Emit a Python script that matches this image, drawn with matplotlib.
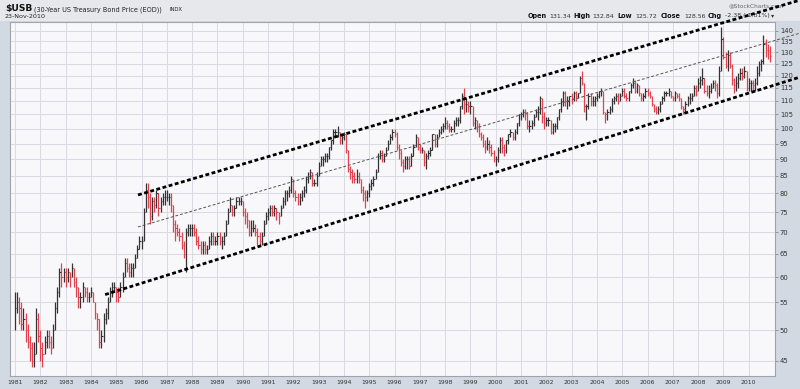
import numpy as np
import matplotlib
matplotlib.use("Agg")
import matplotlib.pyplot as plt
from matplotlib.patches import Rectangle

# monthly bars, Jan 1981 .. Nov 2010
first_year = 1981
closes = [
    54, 55, 54, 51, 52, 50, 48, 47, 45, 46, 52, 49,          # 1981
    47, 46, 48, 49, 48, 47, 50, 54, 57, 61, 60, 61,          # 1982
    60, 61, 60, 62, 59, 58, 56, 56, 58, 57, 56, 56,          # 1983
    57, 55, 53, 52, 48, 49, 52, 53, 55, 57, 58, 58,          # 1984
    57, 56, 58, 60, 63, 62, 61, 62, 62, 64, 66, 68,          # 1985
    68, 75, 81, 79, 74, 78, 77, 80, 76, 78, 79, 79,          # 1986
    79, 79, 77, 72, 71, 70, 69, 67, 65, 70, 71, 71,          # 1987
    71, 70, 68, 67, 66, 67, 66, 66, 68, 69, 68, 68,          # 1988
    69, 68, 68, 69, 72, 75, 77, 75, 76, 78, 78, 78,          # 1989
    75, 74, 73, 70, 71, 71, 70, 69, 68, 69, 72, 74,          # 1990
    75, 76, 75, 76, 75, 74, 76, 78, 80, 80, 81, 84,          # 1991
    80, 79, 78, 79, 80, 81, 84, 85, 86, 83, 83, 85,          # 1992
    88, 90, 90, 91, 91, 94, 96, 99, 99, 99, 96, 97,          # 1993
    98, 93, 87, 86, 85, 84, 85, 84, 81, 80, 79, 80,          # 1994
    82, 83, 84, 86, 91, 92, 90, 91, 93, 95, 97, 99,          # 1995
    98, 94, 92, 89, 88, 90, 90, 88, 91, 94, 97, 94,          # 1996
    93, 93, 89, 91, 92, 93, 98, 95, 97, 99, 100, 101,        # 1997
    102, 101, 100, 100, 102, 103, 103, 108, 112, 109, 109, 108,  # 1998
    108, 102, 103, 101, 98, 97, 95, 94, 95, 94, 92, 90,      # 1999
    90, 93, 96, 94, 93, 96, 98, 99, 97, 99, 102, 105,        # 2000
    105, 106, 105, 101, 101, 102, 104, 106, 106, 111, 104, 102,  # 2001
    103, 103, 99, 101, 101, 104, 107, 110, 113, 110, 110, 112,   # 2002
    111, 113, 112, 113, 119, 117, 108, 108, 112, 110, 110, 111,  # 2003
    112, 114, 114, 106, 105, 106, 107, 110, 111, 112, 110, 112,  # 2004
    114, 112, 111, 114, 116, 117, 114, 116, 113, 111, 112, 114,  # 2005
    113, 112, 109, 107, 106, 107, 109, 111, 113, 113, 114, 112,  # 2006
    111, 113, 112, 111, 108, 107, 109, 111, 111, 112, 115, 114,  # 2007
    117, 118, 119, 114, 113, 114, 115, 117, 116, 113, 122, 136,  # 2008
    128, 124, 129, 124, 118, 116, 117, 119, 121, 120, 122, 115,  # 2009
    117, 117, 116, 117, 121, 125, 126, 134, 131, 130.94, 128.56,  # 2010
]
highs = [
    57, 57, 56, 55, 54, 53, 51, 49, 48, 48, 54, 53,
    50, 48, 49, 50, 50, 49, 51, 55, 58, 62, 63, 62,
    62, 62, 61, 63, 62, 60, 58, 57, 59, 58, 58, 57,
    58, 57, 55, 53, 52, 50, 53, 54, 56, 58, 59, 59,
    58, 58, 59, 61, 64, 64, 63, 63, 63, 65, 67, 69,
    69, 76, 83, 83, 80, 79, 79, 81, 80, 79, 80, 81,
    81, 80, 80, 77, 73, 72, 71, 70, 68, 71, 72, 72,
    72, 72, 71, 69, 68, 68, 68, 67, 69, 70, 70, 69,
    70, 70, 69, 70, 73, 76, 79, 77, 77, 79, 79, 79,
    78, 76, 75, 73, 73, 73, 72, 71, 70, 70, 73, 75,
    76, 77, 77, 77, 76, 75, 77, 79, 81, 81, 82, 85,
    84, 81, 80, 80, 81, 82, 85, 86, 87, 86, 84, 86,
    89, 91, 91, 92, 92, 94, 96, 100, 100, 101, 99, 98,
    99, 98, 93, 88, 87, 86, 87, 86, 84, 82, 81, 81,
    83, 84, 85, 87, 92, 93, 93, 92, 94, 96, 98, 100,
    100, 99, 95, 93, 90, 91, 91, 91, 92, 95, 98, 97,
    95, 94, 93, 92, 93, 94, 98, 98, 98, 100, 101, 102,
    104, 103, 102, 101, 103, 104, 104, 108, 113, 115, 111, 110,
    110, 108, 104, 103, 102, 99, 98, 96, 97, 96, 95, 93,
    91, 94, 97, 97, 95, 96, 98, 100, 99, 100, 102, 105,
    106, 107, 107, 106, 103, 103, 105, 107, 108, 112, 111, 106,
    104, 104, 103, 102, 102, 104, 107, 111, 114, 114, 112, 112,
    113, 114, 114, 113, 120, 122, 117, 109, 113, 113, 112, 112,
    113, 114, 115, 114, 106, 107, 108, 111, 112, 113, 113, 113,
    115, 115, 113, 114, 117, 119, 118, 117, 116, 113, 113, 115,
    115, 114, 112, 109, 108, 108, 110, 112, 114, 114, 115, 114,
    112, 114, 113, 113, 111, 108, 110, 112, 113, 113, 116, 116,
    119, 120, 123, 119, 116, 116, 117, 118, 118, 117, 124, 142,
    137, 130, 131, 130, 125, 119, 120, 121, 123, 123, 124, 122,
    119, 118, 118, 119, 124, 126, 127, 137.8, 136, 134, 132.84,
]
lows = [
    50, 53, 51, 50, 50, 48, 47, 45, 44, 44, 46, 48,
    45, 44, 46, 47, 47, 46, 47, 50, 53, 56, 58, 59,
    58, 59, 58, 60, 58, 56, 54, 54, 55, 56, 55, 55,
    56, 55, 52, 50, 47, 47, 48, 51, 52, 55, 56, 57,
    55, 55, 56, 57, 60, 61, 60, 60, 60, 62, 64, 66,
    66, 68, 75, 76, 72, 73, 75, 76, 74, 75, 77, 77,
    78, 77, 75, 70, 68, 69, 68, 66, 64, 61, 69, 69,
    69, 69, 67, 66, 65, 65, 65, 65, 66, 67, 67, 67,
    67, 67, 66, 67, 69, 72, 75, 74, 74, 76, 77, 77,
    74, 72, 71, 69, 69, 70, 69, 67, 67, 67, 69, 72,
    73, 74, 74, 74, 73, 72, 74, 76, 77, 78, 79, 80,
    79, 78, 77, 77, 78, 79, 80, 83, 84, 82, 82, 82,
    85, 88, 88, 89, 89, 90, 93, 95, 97, 97, 95, 95,
    96, 92, 86, 84, 83, 83, 83, 83, 80, 78, 76, 78,
    79, 81, 82, 84, 86, 90, 89, 89, 91, 93, 95, 96,
    97, 93, 90, 88, 86, 87, 87, 87, 88, 91, 94, 93,
    92, 92, 88, 87, 90, 91, 93, 94, 94, 97, 98, 99,
    100, 100, 99, 99, 99, 101, 101, 102, 107, 105, 106, 106,
    105, 101, 100, 99, 97, 96, 94, 92, 93, 92, 91, 89,
    88, 89, 92, 92, 91, 92, 95, 97, 96, 96, 98, 101,
    103, 104, 103, 100, 99, 100, 101, 104, 103, 105, 102, 100,
    101, 101, 98, 98, 99, 100, 103, 106, 108, 108, 107, 108,
    109, 110, 110, 111, 113, 116, 106, 103, 107, 108, 108, 108,
    110, 111, 112, 105, 102, 103, 105, 106, 109, 110, 109, 110,
    112, 111, 110, 110, 113, 115, 113, 113, 112, 110, 110, 111,
    112, 111, 108, 106, 105, 105, 106, 109, 110, 112, 112, 111,
    110, 110, 111, 110, 107, 105, 106, 108, 109, 110, 112, 112,
    114, 115, 116, 113, 112, 111, 113, 115, 114, 111, 112, 122,
    127, 123, 122, 123, 116, 113, 114, 115, 118, 118, 119, 114,
    114, 114, 114, 114, 116, 120, 122, 125, 128, 127, 125.72,
]

# trend channel drawn on the chart (decimal year, price)
upper_t = [1985.86, 2012.03]
upper_p = [79.6, 155.6]
mid_t = [1985.86, 2012.03]
mid_p = [71.3, 138.9]
lower_t = [1984.56, 2012.03]
lower_p = [56.5, 119.4]

year_ticks = list(range(1981, 2011))
price_ticks = list(range(45, 145, 5))

W, H = 800, 389
fig = plt.figure(figsize=(W / 100, H / 100), dpi=100)
fig.patch.set_facecolor('#d3d9e2')
fig.patches.append(Rectangle((0, 1 - 21 / H), 1, 21 / H, transform=fig.transFigure,
                             facecolor='#e7e8ec', edgecolor='none', zorder=-5))

ax = fig.add_axes([10 / W, 13 / H, 765 / W, 354 / H])
ax.set_zorder(2)
ax.set_facecolor('#f8f8fa')

t = first_year + np.arange(len(closes)) / 12.0
c = np.array(closes, dtype=float)
prev = np.r_[c[0], c[:-1]]
cols = np.where(c < prev, '#e2424f', '#333333')

ax.vlines(t, lows, highs, colors=cols, lw=0.9, zorder=3)
ax.hlines(c, t, t + 0.05, colors=cols, lw=0.8, zorder=3)

ax.set_yscale('log')
ax.set_xlim(1980.80, 2011.04)
ax.set_ylim(42.7, 144.3)

ax.set_xticks(year_ticks)
ax.set_xticklabels([str(y) for y in year_ticks])
ax.set_yticks(price_ticks)
ax.set_yticklabels([str(p) for p in price_ticks])
ax.yaxis.set_minor_locator(plt.NullLocator())
ax.xaxis.set_minor_locator(plt.NullLocator())
ax.yaxis.tick_right()
ax.tick_params(axis='x', length=0, pad=3, labelsize=4.4, labelcolor='#333333')
ax.tick_params(axis='y', length=2, width=0.6, color='#888888', pad=1.5,
               labelsize=4.9, labelcolor='#333333')
ax.grid(True, color='#dadbe2', lw=0.7, zorder=0)
for s in ax.spines.values():
    s.set_color('#9ea3ad')
    s.set_linewidth(0.8)

# channel lines run past the frame to the edge of the image
ax.plot(upper_t, upper_p, color='black', lw=2.0, ls=(0, (1.4, 0.9)), clip_on=False, zorder=5)
ax.plot(lower_t, lower_p, color='black', lw=2.0, ls=(0, (1.4, 0.9)), clip_on=False, zorder=5)
ax.plot(mid_t, mid_p, color='#555555', lw=0.7, ls=(0, (3, 2)), clip_on=False, zorder=5)


def ftext(x, y, s, **kw):
    fig.text(x / W, 1 - y / H, s, va='center', zorder=1, **kw)


ftext(5, 9, '$USB', fontsize=6.6, fontweight='bold', color='#111111')
ftext(34, 9.5, '(30-Year US Treasury Bond Price (EOD))', fontsize=4.7, color='#222222')
ftext(169, 9.5, 'INDX', fontsize=3.8, color='#222222')
ftext(5, 16.5, '23-Nov-2010', fontsize=4.6, color='#222222')
ftext(12, 26, '\u03a8 $USB (Monthly) 128.56', fontsize=4.9, family='DejaVu Sans Mono',
      color='#222222')
ftext(784, 6, '@StockCharts.com', fontsize=4.2, color='#666666', ha='right')

header = [(528, 'Open', True), (549, '131.34', False), (573, 'High', True),
          (592, '132.84', False), (617, 'Low', True), (635, '125.72', False),
          (661, 'Close', True), (684, '128.56', False), (708, 'Chg', True),
          (725, '-2.38 (-1.81%)', False), (771, '\u25be', False)]
for x, s, bold in header:
    ftext(x, 16, s, fontsize=4.7 if bold else 4.5,
          fontweight='bold' if bold else 'normal',
          color='#111111' if bold else '#333333')

fig.savefig('out.png', dpi=100, facecolor=fig.get_facecolor())
